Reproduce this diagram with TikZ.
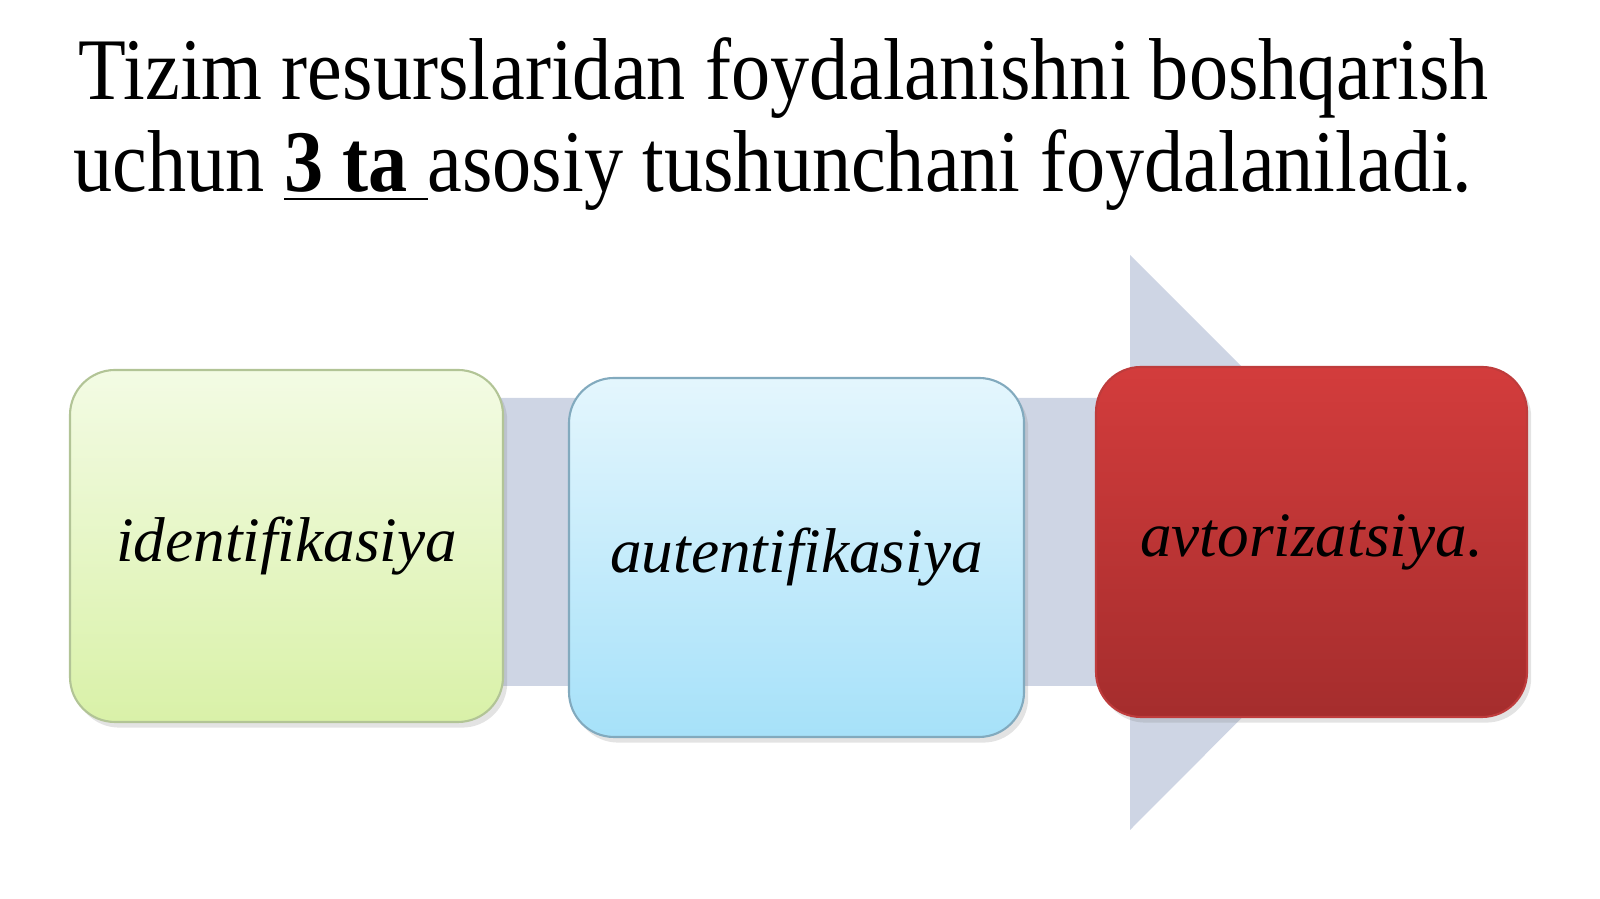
\documentclass[tikz,border=0pt]{standalone}
\usepackage{fontspec}
\setmainfont{Liberation Serif}
\newfontfamily\titlefont{Liberation Serif}[FakeStretch=0.89]
\usetikzlibrary{shadows}
\definecolor{arrowgray}{RGB}{206,213,228}
\definecolor{greentop}{RGB}{243,251,228}
\definecolor{greenbot}{RGB}{217,241,168}
\definecolor{greenline}{RGB}{178,196,150}
\definecolor{bluetop}{RGB}{228,246,253}
\definecolor{bluebot}{RGB}{166,225,249}
\definecolor{blueline}{RGB}{130,170,190}
\definecolor{redtop}{RGB}{211,60,60}
\definecolor{redbot}{RGB}{165,45,45}
\definecolor{redline}{RGB}{190,60,60}
\newcommand\thickul[1]{\setbox0\hbox{#1}\rlap{\rule[-2.4pt]{\wd0}{0.8pt}}\box0}
\tikzset{
  titleline/.style={anchor=base west, inner sep=0pt, font=\titlefont\fontsize{25}{30}\selectfont},
  stage/.style={rounded corners=0.45cm, inner sep=0pt, line width=0.6pt,
    font=\fontsize{18}{22}\selectfont\itshape,
    drop shadow={opacity=0.22, shadow xshift=1.2pt, shadow yshift=-1.6pt}},
  greenbox/.style={stage, draw=greenline, top color=greentop, bottom color=greenbot},
  bluebox/.style={stage, draw=blueline, top color=bluetop, bottom color=bluebot},
  redbox/.style={stage, draw=redline, top color=redtop, bottom color=redbot}
}
\begin{document}
\begin{tikzpicture}[line join=round]
		\useasboundingbox (0,0) rectangle (16,8.99);
		% title
		\node[titleline] (line1) at (0.78,7.99) {\makebox[14.1cm][s]{Tizim resurslaridan foydalanishni boshqarish}};
		\node[titleline] (line2) at (0.73,7.07) {uchun \thickul{\textbf{3 ta }}asosiy tushunchani foydalaniladi.};
		% big arrow behind the boxes
		\path
		(1.0,5.01) coordinate (S1)
		(11.3,5.01) coordinate (S2)
		(11.3,6.44) coordinate (H1)
		(14.17,3.57) coordinate (T)
		(11.3,0.69) coordinate (H2)
		(11.3,2.13) coordinate (S3)
		(1.0,2.13) coordinate (S4);
		\fill[arrowgray]
		(S1)--(S2)--(H1)--(T)--(H2)--(S3)--(S4)--cycle;
		% the three stages
		\foreach \n/\p/\w/\h/\s/\t in {id/{2.865,3.53}/4.33/3.52/greenbox/identifikasiya,
			au/{7.965,3.415}/4.55/3.59/bluebox/autentifikasiya,
			av/{13.115,3.57}/4.31/3.50/redbox/avtorizatsiya.}
		\node[\s, minimum width=\w cm, minimum height=\h cm] (\n) at (\p) {\t};
		\end{tikzpicture}
\end{document}
